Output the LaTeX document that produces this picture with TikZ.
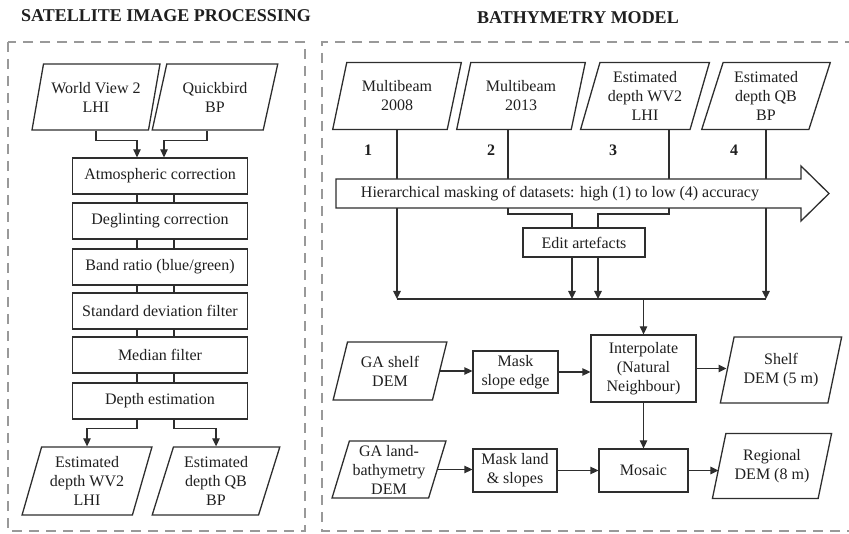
\documentclass[tikz,border=0pt]{standalone}
\usepackage{fontspec}
\setmainfont{Liberation Serif}
\usetikzlibrary{positioning, calc, arrows.meta, shapes.geometric}

\newcommand{\bodyfont}{\fontsize{16}{19}\selectfont}
\newcommand{\headfont}{\fontsize{18}{21}\selectfont\bfseries}

\tikzset{
  ink/.style={draw=black!82, line width=1.3pt},
  procbox/.style={ink, rectangle, align=center, inner sep=1pt, font=\bodyfont, text=black!88},
  databox/.style={ink, trapezium, trapezium left angle=72, trapezium right angle=108,
    trapezium stretches=true, align=center, inner sep=0pt, font=\bodyfont, text=black!88},
  flow/.style={ink, -{Triangle[length=8pt,width=7.5pt]}},
  panel/.style={draw=gray!80, line width=2.2pt, dash pattern=on 10pt off 7pt},
  heading/.style={font=\headfont, text=black!88},
}

\begin{document}
\begin{tikzpicture}[x=1pt, y=-1pt]
    \useasboundingbox (0,0) rectangle (849,534);

    % Headings and dashed panels
    \node[heading] (tleft) at (166,16) {SATELLITE IMAGE PROCESSING};
    \node[heading] (tright) at (578,18) {BATHYMETRY MODEL};
    \draw[panel] (8,42) rectangle (305,531);
    \draw[panel] (855,42) -- (322,42) -- (322,531) -- (855,531);

    % Satellite inputs
    \node[databox, minimum width=128pt, minimum height=66pt] (wv) at (96,97) {World View 2\\LHI};
    \node[databox, minimum width=126pt, minimum height=66pt] (qb) at (215,97) {Quickbird\\BP};

    % Processing chain
    \foreach \nm/\y/\txt in {atm/176/Atmospheric correction, degl/221/Deglinting correction,
        band/267/{Band ratio (blue/green)}, stdf/311/Standard deviation filter,
        medf/355/Median filter, dest/401/Depth estimation}
        \node[procbox, minimum width=175pt, minimum height=36pt] (\nm) at (160,\y) {\txt};
    \foreach \a/\b in {atm/degl, degl/band, band/stdf, stdf/medf, medf/dest} {
        \draw[ink] ([xshift=-23pt]\a.south) -- ([xshift=-23pt]\b.north);
        \draw[ink] ([xshift=14pt]\a.south) -- ([xshift=14pt]\b.north);
    }
    \draw[flow] (wv.south) -- ++(0,10) -| ([xshift=-23pt]atm.north);
    \draw[flow] ([xshift=-8pt]qb.south) -- ++(0,10) -| ([xshift=4pt]atm.north);

    % Satellite outputs
    \node[databox, minimum width=130pt, minimum height=68pt] (ewv) at (87,481) {Estimated\\depth WV2\\LHI};
    \node[databox, minimum width=128pt, minimum height=68pt] (eqb) at (216,481) {Estimated\\depth QB\\BP};
    \draw[flow] ([xshift=-23pt]dest.south) -- ++(0,9) -| (ewv.north);
    \draw[flow] ([xshift=14pt]dest.south) -- ++(0,9) -| (eqb.north);

    % Bathymetry datasets
    \node[databox, minimum width=129pt, minimum height=67pt] (mb08) at (397,96) {Multibeam\\2008};
    \node[databox, minimum width=129pt, minimum height=67pt] (mb13) at (521,96) {Multibeam\\2013};
    \node[databox, minimum width=129pt, minimum height=67pt] (ewvr) at (645,96) {Estimated\\depth WV2\\LHI};
    \node[databox, minimum width=129pt, minimum height=67pt] (eqbr) at (766,96) {Estimated\\depth QB\\BP};
    \foreach \k/\x in {1/368, 2/491, 3/613, 4/734}
        \node[font=\bodyfont\bfseries, text=black!88] (n\k) at (\x,150) {\k};

    \node[procbox, minimum width=122pt, minimum height=29pt] (edit) at (584,242.5) {Edit artefacts};

    \coordinate (col) at (0,299);
    \coordinate (brk) at (0,214);
    \coordinate (l2) at ([xshift=-13pt]mb13.south);
    \coordinate (l3) at ([xshift=24pt]ewvr.south);
    \coordinate (eLn) at ([xshift=-12pt]edit.north);
    \coordinate (eRn) at ([xshift=14pt]edit.north);
    \coordinate (eLs) at ([xshift=-12pt]edit.south);
    \coordinate (eRs) at ([xshift=14pt]edit.south);

    % Masking connectors
    \draw[flow] (mb08.south) -- (mb08.south |- col);
    \draw[flow] (eqbr.south) -- (eqbr.south |- col);
    \draw[ink] (l2) |- (eLn |- brk) -- (eLn);
    \draw[ink] (l3) |- (eRn |- brk) -- (eRn);
    \draw[flow] (eLs) -- (eLs |- col);
    \draw[flow] (eRs) -- (eRs |- col);
    \draw[ink] (mb08.south |- col) -- (eqbr.south |- col);

    % Hierarchy arrow
    \draw[ink, fill=white] (336,179) -- (801,179) -- (801,166) -- (829,193.5)
        -- (801,221) -- (801,208) -- (336,208) -- cycle;
    \node[font=\bodyfont, text=black!88] (mask) at (560,193.5)
        {Hierarchical masking of datasets: high (1) to low (4) accuracy};

    % Interpolation row
    \node[procbox, minimum width=105pt, minimum height=67pt] (interp) at (643.5,368.5) {Interpolate\\(Natural\\Neighbour)};
    \node[databox, minimum width=114pt, minimum height=58pt] (gashelf) at (390,371) {GA shelf\\DEM};
    \node[procbox, minimum width=85pt, minimum height=42pt] (maskse) at (515.5,372) {Mask\\slope edge};
    \node[databox, minimum width=122pt, minimum height=66pt] (shelfdem) at (781,370) {Shelf\\DEM (5 m)};
    \draw[flow] (interp.north |- col) -- (interp.north);
    \draw[flow] (gashelf.east) -- (gashelf.east -| maskse.west);
    \draw[flow] (maskse.east) -- (maskse.east -| interp.west);
    \draw[flow] (interp.east) -- (interp.east -| shelfdem.west);

    % Mosaic row
    \node[databox, minimum width=114pt, minimum height=57pt] (galand) at (389,469.5) {GA land-\\bathymetry\\DEM};
    \node[procbox, minimum width=84pt, minimum height=43pt] (maskls) at (515,470.5) {Mask land\\\& slopes};
    \node[procbox, minimum width=89pt, minimum height=43pt] (mosaic) at (643.5,470.5) {Mosaic};
    \node[databox, minimum width=120pt, minimum height=65pt] (regional) at (772,466) {Regional\\DEM (8 m)};
    \draw[flow] (interp.south) -- (interp.south |- mosaic.north);
    \draw[flow] (galand.east) -- (galand.east -| maskls.west);
    \draw[flow] (maskls.east) -- (maskls.east -| mosaic.west);
    \draw[flow] (mosaic.east) -- (mosaic.east -| regional.west);
\end{tikzpicture}
\end{document}
